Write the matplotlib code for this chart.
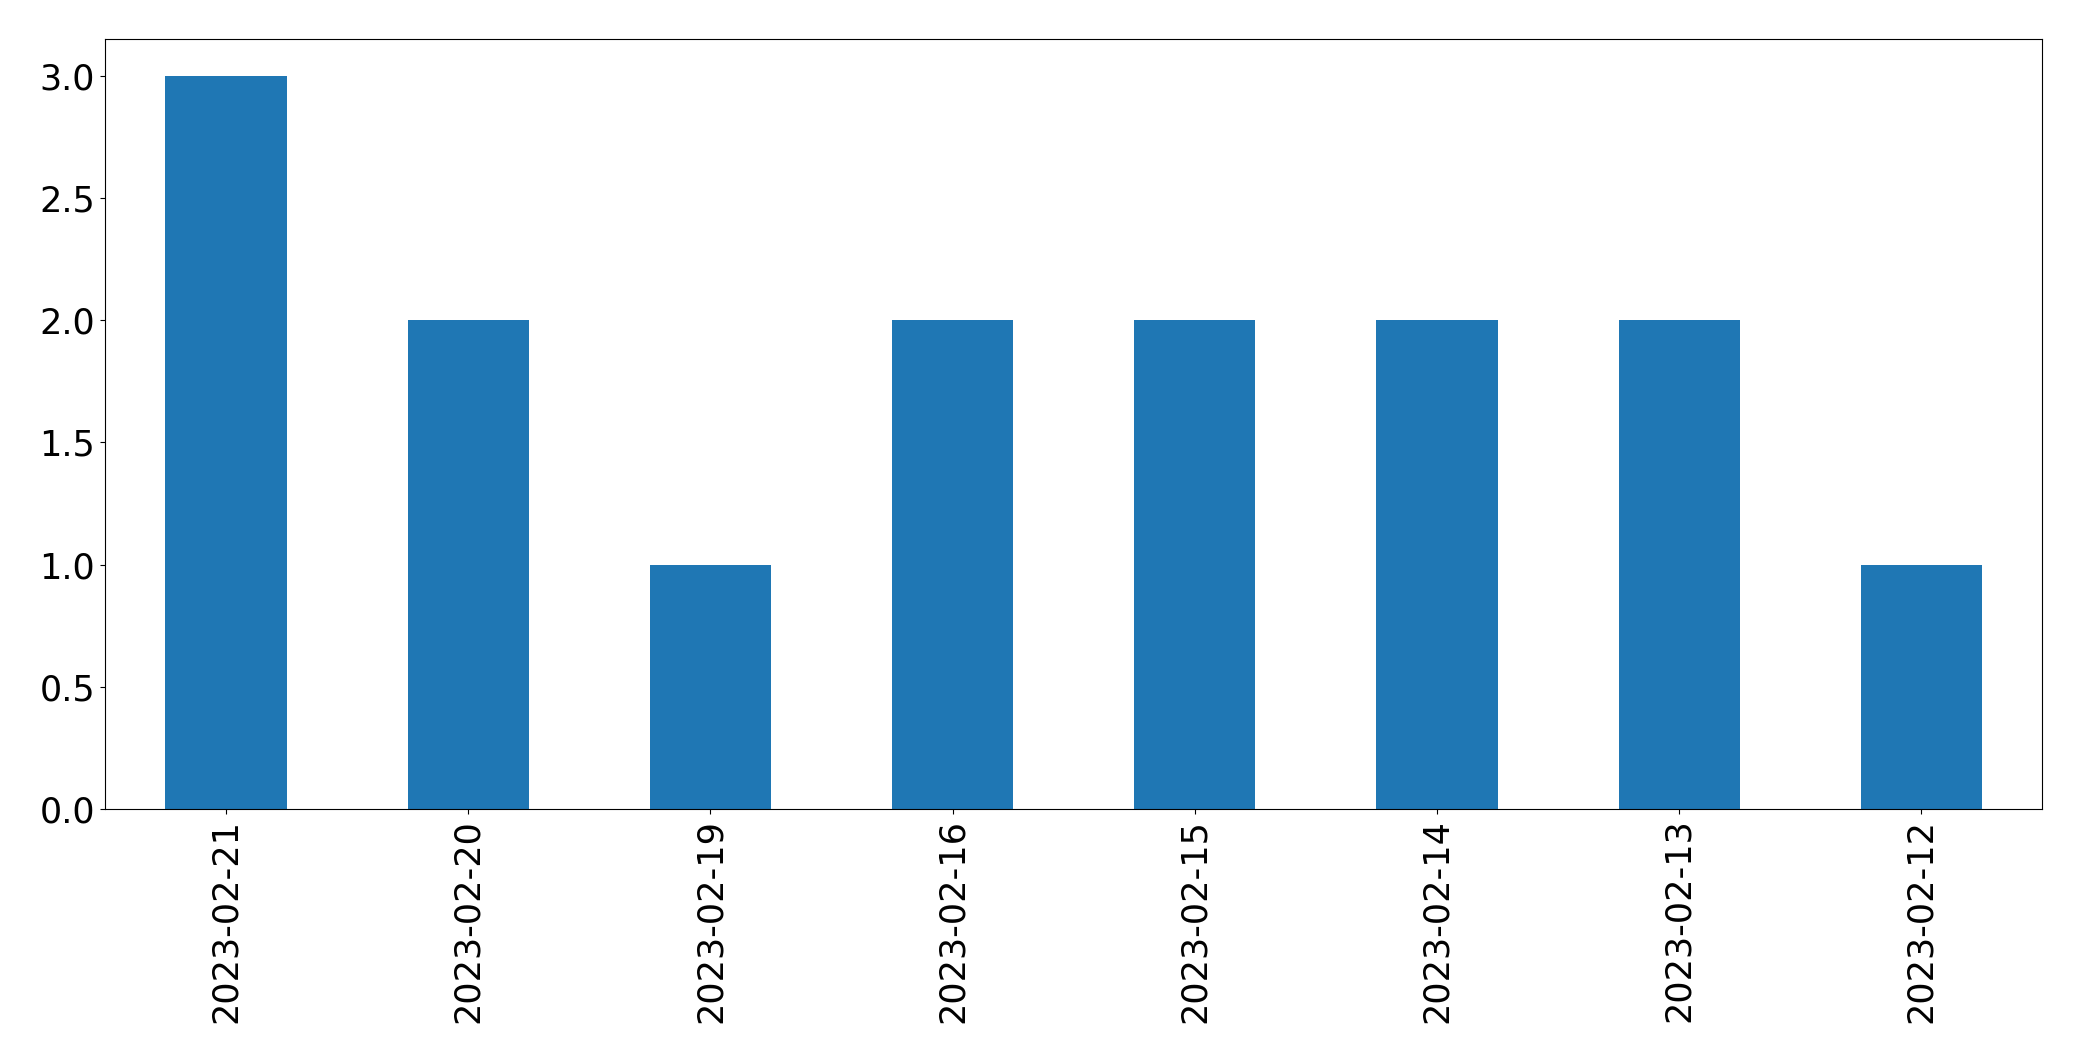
import matplotlib
matplotlib.use("Agg")
import matplotlib.pyplot as plt
import pandas as pd

# counts per day
dates = ["2023-02-21", "2023-02-20", "2023-02-19", "2023-02-16",
         "2023-02-15", "2023-02-14", "2023-02-13", "2023-02-12"]
counts = [3, 2, 1, 2, 2, 2, 2, 1]

plt.rcParams["font.size"] = 25

series = pd.Series(counts, index=dates)

fig, ax = plt.subplots(figsize=(20.82, 10.61), dpi=100)
series.plot(kind="bar", ax=ax, color="#1f77b4")
ax.set_xlabel("")
ax.tick_params(axis="both", labelsize=25.2)

fig.subplots_adjust(left=0.0504, right=0.981, top=0.963, bottom=0.2375)
fig.savefig("out.png", dpi=100)
